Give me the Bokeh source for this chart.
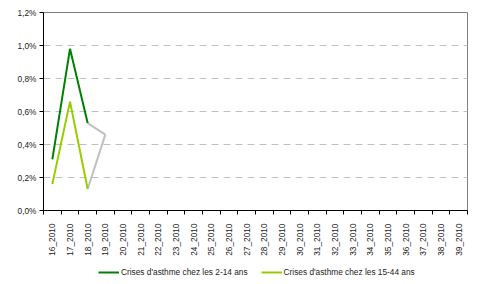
import math
from bokeh.plotting import figure
from bokeh.layouts import column
from bokeh.models import FixedTicker, Legend, LegendItem
from bokeh.embed import file_html
from bokeh.resources import INLINE

weeks = ["16_2010", "17_2010", "18_2010", "19_2010", "20_2010", "21_2010", "22_2010",
         "23_2010", "24_2010", "25_2010", "26_2010", "27_2010", "28_2010", "29_2010",
         "30_2010", "31_2010", "32_2010", "33_2010", "34_2010", "35_2010", "36_2010",
         "37_2010", "38_2010", "39_2010"]
# observed weeks (16-18) and provisional segment (18-19), values in %
obs_weeks = ["16_2010", "17_2010", "18_2010"]
asthme_2_14 = [0.31, 0.98, 0.53]
asthme_15_44 = [0.16, 0.66, 0.13]
prov_weeks = ["18_2010", "19_2010"]
prov_2_14 = [0.53, 0.46]
prov_15_44 = [0.13, 0.46]
y_ticks = [0.0, 0.2, 0.4, 0.6, 0.8, 1.0, 1.2]
y_labels = ["0,0%", "0,2%", "0,4%", "0,6%", "0,8%", "1,0%", "1,2%"]
series_names = ["Crises d'asthme chez les 2-14 ans", "Crises d'asthme chez les 15-44 ans"]
series_colors = ["#008000", "#99cc00"]

idx = {w: i for i, w in enumerate(weeks)}
FONT = "Liberation Sans"
FS = "8.3px"
TXT = "#222222"

p = figure(width=477, height=258, output_backend="svg", toolbar_location=None,
           x_range=(-0.5, len(weeks) - 0.5), y_range=(0, 1.2),
           min_border_left=43, min_border_right=10, min_border_top=12, min_border_bottom=47)
p.outline_line_color = "#808080"
p.outline_line_width = 1

# x axis
xa = p.xaxis[0]
xa.ticker = FixedTicker(ticks=list(range(len(weeks))),
                        minor_ticks=[i - 0.5 for i in range(len(weeks) + 1)])
xa.major_label_overrides = {i: w for i, w in enumerate(weeks)}
xa.major_label_orientation = math.pi / 2
xa.major_tick_out = 0
xa.major_tick_in = 0
xa.minor_tick_out = 4
xa.minor_tick_in = 0
xa.minor_tick_line_color = "black"
xa.axis_line_color = "black"
xa.major_label_standoff = 9
xa.major_label_text_font = FONT
xa.major_label_text_font_size = FS
xa.major_label_text_color = TXT

# y axis
ya = p.yaxis[0]
ya.ticker = FixedTicker(ticks=y_ticks)
ya.major_label_overrides = {t: l for t, l in zip(y_ticks, y_labels)}
ya.major_tick_out = 4
ya.major_tick_in = 0
ya.minor_tick_line_color = None
ya.axis_line_color = "black"
ya.major_label_standoff = 3
ya.major_label_text_font = FONT
ya.major_label_text_font_size = FS
ya.major_label_text_color = TXT

p.xgrid.grid_line_color = None
p.ygrid.ticker = FixedTicker(ticks=y_ticks[1:-1])
p.ygrid.grid_line_color = "#c0c0c0"
p.ygrid.grid_line_dash = "7 5"
p.ygrid.grid_line_width = 1

gx = [idx[w] for w in prov_weeks]
p.line(gx, prov_2_14, line_color="#c0c0c0", line_width=2)
p.line(gx, prov_15_44, line_color="#c0c0c0", line_width=2)

ox = [idx[w] for w in obs_weeks]
series_vals = [asthme_2_14, asthme_15_44]
for vals, col in zip(series_vals, series_colors):
    p.line(ox, vals, line_color=col, line_width=2)

# legend strip (its lines use the same data but lie outside its visible range)
lg = figure(width=477, height=26, output_backend="svg", toolbar_location=None,
            x_axis_type=None, y_axis_type=None, x_range=(100, 101), y_range=(100, 101),
            min_border=0, min_border_left=43, min_border_right=10,
            min_border_top=0, min_border_bottom=0)
lg.outline_line_color = None
lg.xgrid.grid_line_color = None
lg.ygrid.grid_line_color = None
items = []
for name, vals, col in zip(series_names, series_vals, series_colors):
    r = lg.line(ox, vals, line_color=col, line_width=2)
    items.append(LegendItem(label=name, renderers=[r]))
leg = Legend(items=items, orientation="horizontal", location=(55, 7),
             padding=0, margin=0, spacing=13, label_standoff=2,
             glyph_width=21, glyph_height=8, label_height=8,
             label_text_font=FONT, label_text_font_size=FS, label_text_color=TXT,
             border_line_color=None, background_fill_alpha=0)
lg.add_layout(leg, "center")

layout = column(p, lg, spacing=0)
open("out.html", "w").write(file_html(layout, INLINE))
